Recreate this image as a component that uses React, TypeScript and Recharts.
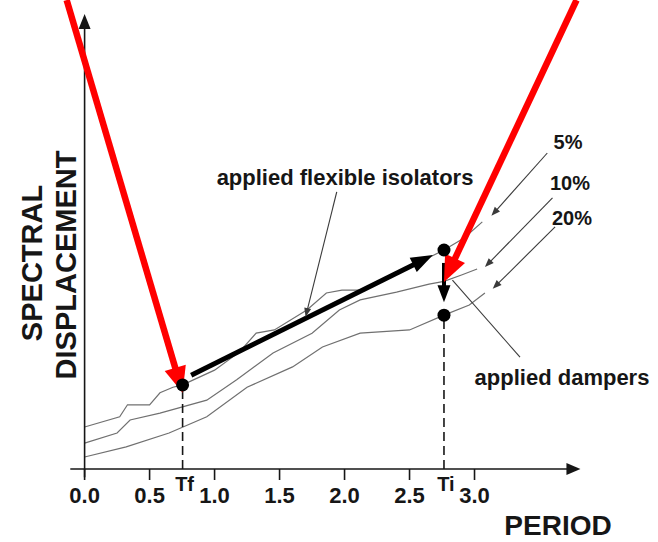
import React from 'react';
import { ComposedChart, Line, XAxis, YAxis, ReferenceLine, ReferenceDot } from 'recharts';

// spectral displacement curves (period in s, displacement in arbitrary units)
const periods5 = [0, 0.27, 0.33, 0.5, 0.58, 0.68, 0.754, 1.0, 1.19, 1.32, 1.46, 1.71, 1.86, 1.98, 2.12, 2.35, 2.58, 2.765, 2.92, 3.06];
const disp5 = [9.1, 11.3, 13.9, 13.9, 16.5, 17.7, 18.2, 21.4, 25.3, 29.4, 30.1, 34.4, 38.1, 38.7, 38.7, 42, 44.8, 47.4, 50, 53.5];

const periods10 = [0, 0.25, 0.35, 0.58, 0.94, 1.17, 1.45, 1.75, 1.96, 2.12, 2.4, 2.65, 2.765, 2.9, 3.02];
const disp10 = [5.6, 7.8, 10.6, 12.1, 14.9, 19.3, 25.1, 29.4, 34.4, 36.6, 38.3, 40, 40.6, 42, 43.3];

const periods20 = [0, 0.32, 0.65, 0.94, 1.25, 1.6, 1.83, 2.12, 2.5, 2.765, 2.96, 3.08];
const disp20 = [2.6, 4.8, 7.8, 11.3, 17.7, 22.1, 26.4, 29.4, 30.1, 33.3, 35.5, 38.1];

const periodTicks = [0, 0.5, 1.0, 1.5, 2.0, 2.5, 3.0];
const Tf = 0.754;
const Ti = 2.765;
const tfDisp = 18.2;
const tiTopDisp = 47.4;
const tiBottomDisp = 33.3;

const FONT = '"Liberation Sans", Arial, Helvetica, sans-serif';
const INK = '#161616';
const CURVE = '#707070';

const toPoints = (xs: number[], ys: number[]) => xs.map((period, i) => ({ period, disp: ys[i] }));

type Seg = [[number, number], [number, number]];

const arrowShape = (color: string, width: number, headLen: number, headW: number) => (props: any) => {
  const { x1, y1, x2, y2 } = props;
  const dx = x2 - x1;
  const dy = y2 - y1;
  const len = Math.hypot(dx, dy) || 1;
  const ux = dx / len;
  const uy = dy / len;
  const bx = x2 - ux * headLen;
  const by = y2 - uy * headLen;
  const px = -uy * headW / 2;
  const py = ux * headW / 2;
  return (
    <g>
      <line x1={x1} y1={y1} x2={headLen > 0 ? bx + ux : x2} y2={headLen > 0 ? by + uy : y2} stroke={color} strokeWidth={width} />
      {headLen > 0 && (
        <polygon points={`${x2},${y2} ${bx + px},${by + py} ${bx - px},${by - py}`} fill={color} />
      )}
    </g>
  );
};

// leader lines from the labels to the curves
const leaders: Seg[] = [
  [[3.56, 68.4], [3.13, 54.8]],
  [[3.6, 58.7], [3.08, 43.7]],
  [[3.62, 52.4], [3.14, 39.0]],
  [[1.94, 60.0], [1.70, 32.9]],
];
const damperLeader: Seg = [[2.83, 40.9], [3.35, 24.2]];
const redArrows: Seg[] = [
  [[-0.138, 101.5], [Tf, 16.5]],
  [[3.785, 101.5], [Ti, 40.5]],
];

const PeriodTick = (props: any) => {
  const { x, y, payload } = props;
  const v = payload.value as number;
  if (v === Tf || v === Ti) {
    return (
      <text x={x + 2} y={y + 22} textAnchor="middle" fontFamily={FONT} fontWeight={700} fontSize={20} fill={INK}>
        {v === Tf ? 'Tf' : 'Ti'}
      </text>
    );
  }
  return (
    <g>
      <line x1={x} x2={x} y1={y} y2={y + 11} stroke={INK} strokeWidth={1.6} />
      <text x={x} y={y + 34} textAnchor="middle" fontFamily={FONT} fontWeight={700} fontSize={22} fill={INK}>
        {v.toFixed(1)}
      </text>
    </g>
  );
};

const seg = (s: Seg) => [{ x: s[0][0], y: s[0][1] }, { x: s[1][0], y: s[1][1] }];

const App: React.FC = () => {
  const textStyle = { fontFamily: FONT, fontWeight: 700, fill: INK } as const;
  return (
    <div style={{ position: 'absolute', left: 0, top: 0, width: 658, height: 542, background: '#fff' }}>
      <ComposedChart width={658} height={542} margin={{ top: 7, right: 73, left: 69, bottom: 43 }}>
        <XAxis
          type="number"
          dataKey="period"
          domain={[-0.12, 3.85]}
          allowDataOverflow
          ticks={[...periodTicks.slice(0, 2), Tf, ...periodTicks.slice(2, 6), Ti, periodTicks[6]]}
          interval={0}
          axisLine={false}
          tickLine={false}
          tickSize={0}
          tickMargin={0}
          height={30}
          tick={(p: any) => <PeriodTick {...p} />}
        />
        <YAxis hide type="number" domain={[0, 100]} allowDataOverflow />

        <Line data={toPoints(periods5, disp5)} dataKey="disp" type="linear" stroke={CURVE} strokeWidth={1.2} dot={false} isAnimationActive={false} />
        <Line data={toPoints(periods10, disp10)} dataKey="disp" type="linear" stroke={CURVE} strokeWidth={1.2} dot={false} isAnimationActive={false} />
        <Line data={toPoints(periods20, disp20)} dataKey="disp" type="linear" stroke={CURVE} strokeWidth={1.2} dot={false} isAnimationActive={false} />

        {/* axes with arrow heads */}
        <ReferenceLine segment={[{ x: -0.11, y: 0 }, { x: 3.815, y: 0 }]} ifOverflow="visible" shape={arrowShape(INK, 1.6, 14, 12)} />
        <ReferenceLine segment={[{ x: 0, y: -1.8 }, { x: 0, y: 98.5 }]} ifOverflow="visible" shape={arrowShape(INK, 1.6, 15, 12)} />

        {/* dashed period markers */}
        <ReferenceLine segment={[{ x: Tf, y: 0 }, { x: Tf, y: tfDisp }]} ifOverflow="visible" stroke={INK} strokeWidth={1.6} strokeDasharray="9 5" />
        <ReferenceLine segment={[{ x: Ti, y: 0 }, { x: Ti, y: tiBottomDisp }]} ifOverflow="visible" stroke={INK} strokeWidth={1.6} strokeDasharray="9 5" />

        {/* isolator shift and damper drop */}
        <ReferenceLine segment={[{ x: 0.82, y: 20.3 }, { x: 2.68, y: 46.3 }]} ifOverflow="visible" shape={arrowShape('#000', 5, 22, 16)} />
        <ReferenceLine segment={[{ x: Ti, y: 44.6 }, { x: Ti, y: 36.1 }]} ifOverflow="visible" shape={arrowShape('#000', 4, 17, 13)} />

        <ReferenceDot x={Tf} y={tfDisp} r={6.5} fill="#000" stroke="none" ifOverflow="visible" />
        <ReferenceDot x={Ti} y={tiTopDisp} r={6.5} fill="#000" stroke="none" ifOverflow="visible" />
        <ReferenceDot x={Ti} y={tiBottomDisp} r={6.5} fill="#000" stroke="none" ifOverflow="visible" />

        {leaders.map((s, i) => (
          <ReferenceLine key={`ld${i}`} segment={seg(s)} ifOverflow="visible" shape={arrowShape('#3a3a3a', 1.1, 9, 7)} />
        ))}
        <ReferenceLine segment={seg(damperLeader)} ifOverflow="visible" shape={arrowShape('#3a3a3a', 1.1, 0, 0)} />

        {redArrows.map((s, i) => (
          <ReferenceLine key={`red${i}`} segment={seg(s)} ifOverflow="visible" shape={arrowShape('#ff0000', 6.5, 26, 22)} />
        ))}

        <text x={345} y={185} textAnchor="middle" fontSize={22} {...textStyle}>applied flexible isolators</text>
        <text x={562} y={385} textAnchor="middle" fontSize={22} {...textStyle}>applied dampers</text>
        <text x={568} y={149} textAnchor="middle" fontSize={20} {...textStyle}>5%</text>
        <text x={570} y={190} textAnchor="middle" fontSize={20} {...textStyle}>10%</text>
        <text x={572} y={225} textAnchor="middle" fontSize={20} {...textStyle}>20%</text>
        <text x={558} y={535} textAnchor="middle" fontSize={28} {...textStyle}>PERIOD</text>
        <text x={32} y={263} transform="rotate(-90, 32, 263)" textAnchor="middle" dominantBaseline="central" fontSize={29} {...textStyle}>SPECTRAL</text>
        <text x={66} y={265} transform="rotate(-90, 66, 265)" textAnchor="middle" dominantBaseline="central" fontSize={29} {...textStyle}>DISPLACEMENT</text>
      </ComposedChart>
    </div>
  );
};

export default App;
